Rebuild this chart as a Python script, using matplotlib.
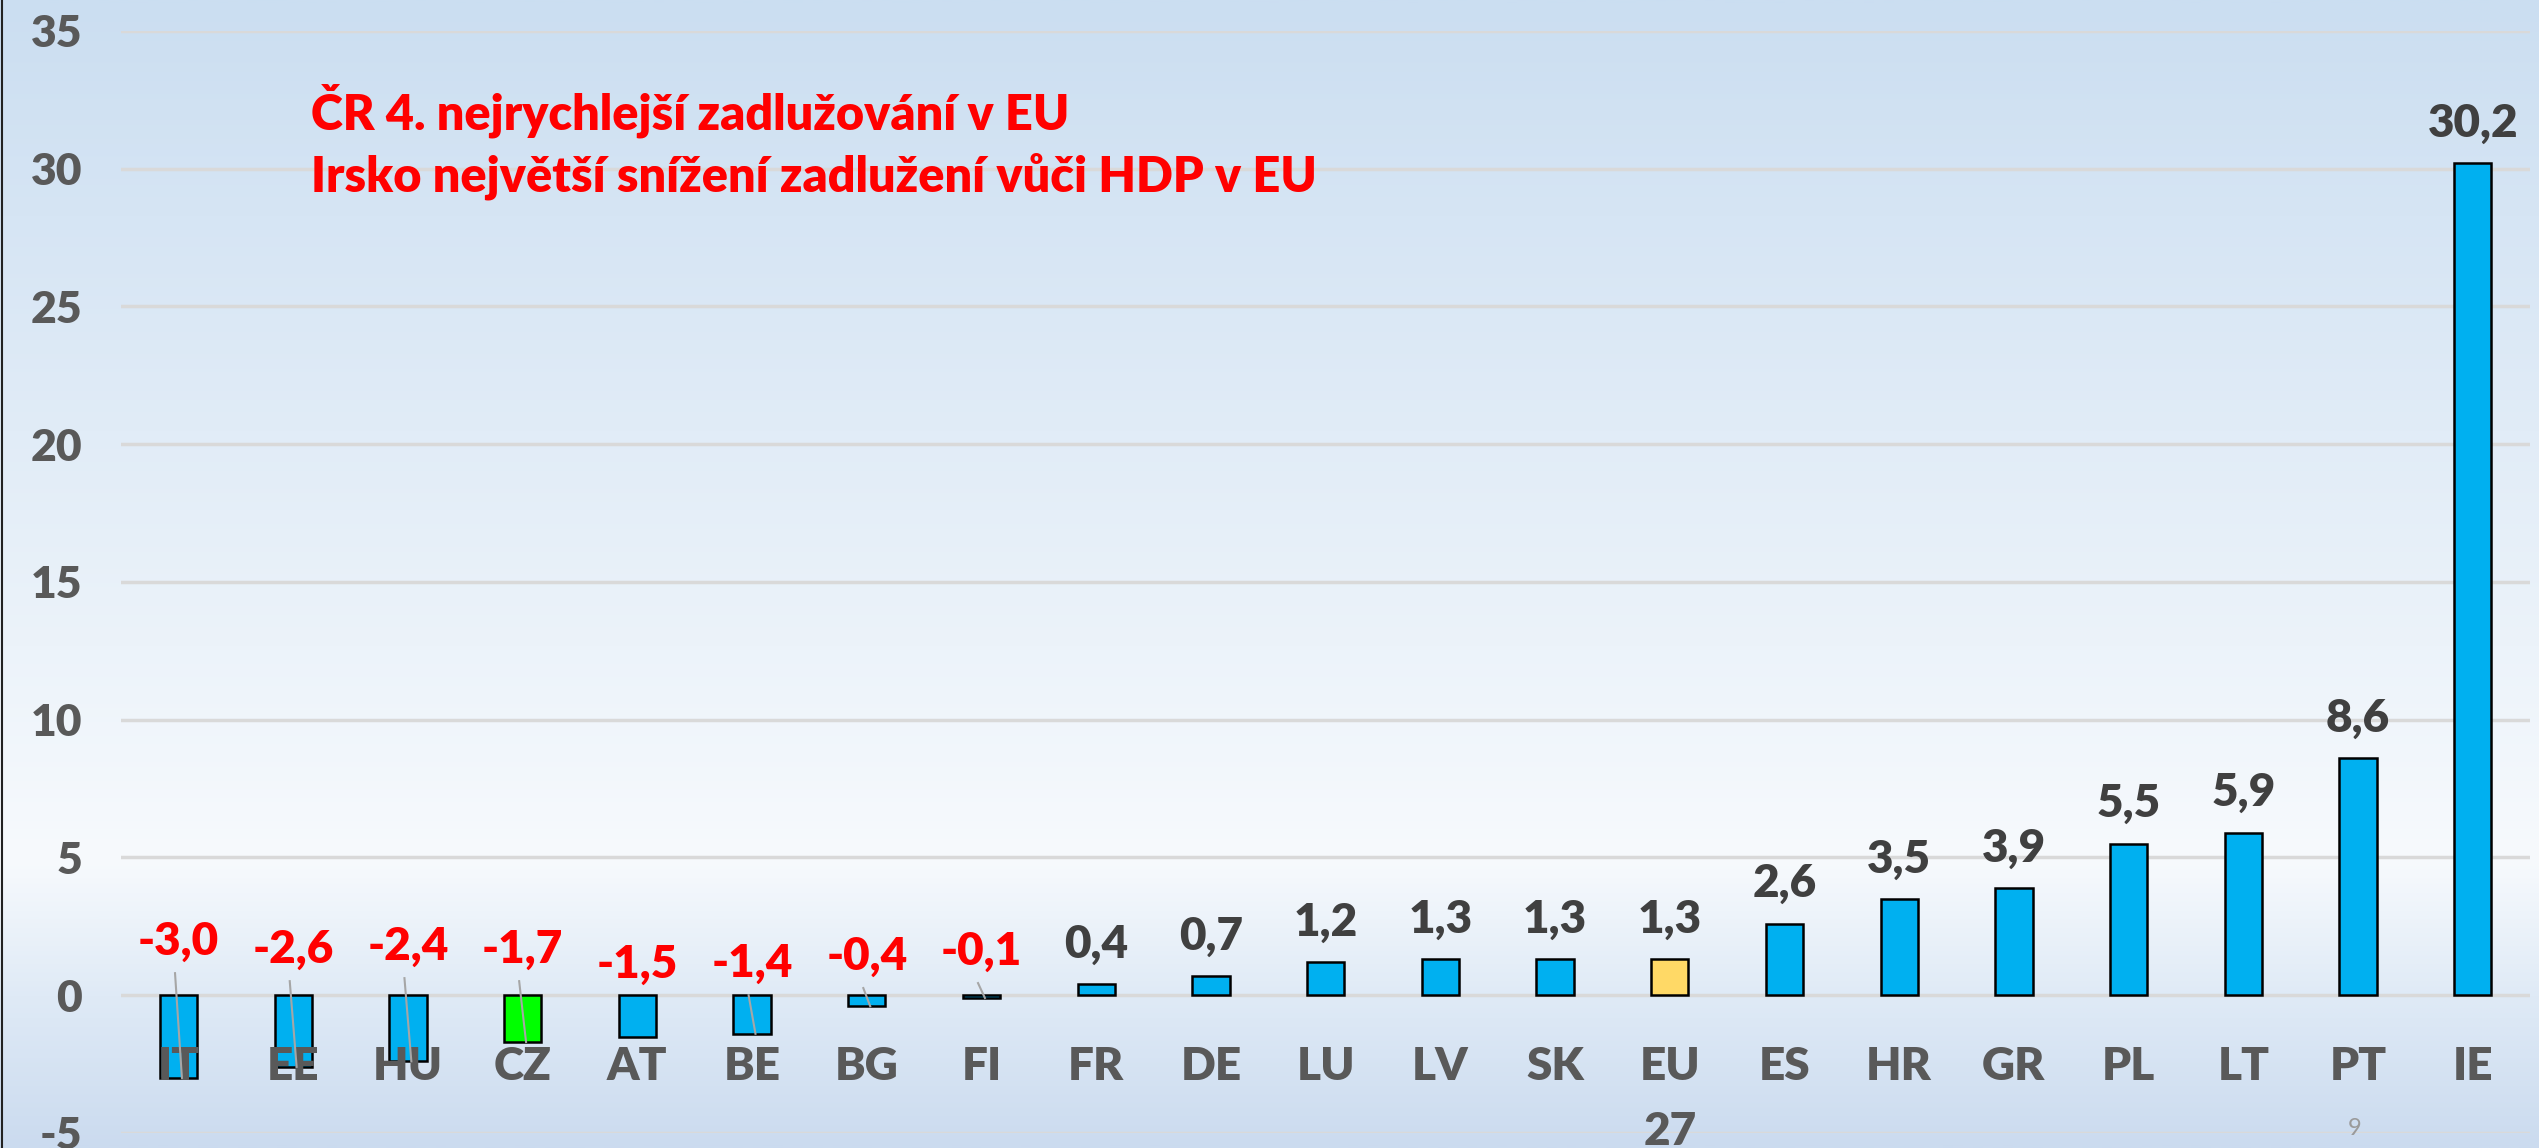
import matplotlib.pyplot as plt
import numpy as np
from matplotlib.colors import LinearSegmentedColormap

plt.rcParams['font.family'] = ['Lato', 'DejaVu Sans']

# Data
countries = ['IT', 'EE', 'HU', 'CZ', 'AT', 'BE', 'BG', 'FI', 'FR', 'DE', 'LU',
             'LV', 'SK', 'EU\n27', 'ES', 'HR', 'GR', 'PL', 'LT', 'PT', 'IE']
values = [-3.0, -2.6, -2.4, -1.7, -1.5, -1.4, -0.4, -0.1, 0.4, 0.7, 1.2,
          1.3, 1.3, 1.3, 2.6, 3.5, 3.9, 5.5, 5.9, 8.6, 30.2]
yticks = [-5, 0, 5, 10, 15, 20, 25, 30, 35]
title_lines = ['ČR 4. nejrychlejší zadlužování v EU',
               'Irsko největší snížení zadlužení vůči HDP v EU']

# Styling / layout
W = 'heavy'
bar_colors = ['#00b0f0'] * len(countries)
bar_colors[countries.index('CZ')] = '#00ff00'
bar_colors[countries.index('EU\n27')] = '#ffd966'
# manual label heights for negative values (Excel moved them above zero)
neg_label_y = [1.45, 1.16, 1.27, 1.16, 0.62, 0.65, 0.91, 1.09]
neg_leader = [True, True, True, True, False, True, True, True]

fig = plt.figure(figsize=(25.39, 11.48), dpi=100)

# background gradient
bg = fig.add_axes([0, 0, 1, 1], zorder=-10)
cmap = LinearSegmentedColormap.from_list(
    'bg', [(0.0, '#cbdef1'), (0.75, '#f7fafd'), (0.87, '#dfeaf6'), (1.0, '#cbdbef')])
grad = np.linspace(0, 1, 512).reshape(-1, 1)
bg.imshow(grad, aspect='auto', cmap=cmap, extent=[0, 1, 0, 1], origin='upper')
bg.axis('off')
bg.plot([0.0006, 0.0006], [0, 1], color='#222222', lw=1.5)
bg.set_xlim(0, 1)
bg.set_ylim(0, 1)

ax = fig.add_axes([0.0477, 0.0131, 0.9488, 0.9599])
ax.set_facecolor('none')
x = np.arange(len(countries))
ax.bar(x, values, width=0.325, color=bar_colors, edgecolor='black', linewidth=1.8, zorder=3)
ax.set_xlim(-0.5, len(countries) - 0.5)
ax.set_ylim(-5, 35)
ax.set_yticks(yticks)
ax.set_yticklabels([str(t) for t in yticks], fontsize=32, fontweight=W, color='#595959')
ax.tick_params(axis='y', length=0, pad=28)
ax.set_xticks([])
ax.grid(axis='y', color='#d9d9d9', linewidth=2.5, zorder=0)
for s in ax.spines.values():
    s.set_visible(False)

# category labels inside plot area, one text per line
for i, c in enumerate(countries):
    for k, part in enumerate(c.split('\n')):
        ax.annotate(part, (i, -3.06), xytext=(0, -47 * k), textcoords='offset points',
                    ha='center', va='baseline', fontsize=33, fontweight=W,
                    color='#595959', zorder=5, annotation_clip=False)

# data labels
neg_i = 0
for i, v in enumerate(values):
    txt = f'{v:.1f}'.replace('.', ',')
    if v < 0:
        ly = neg_label_y[neg_i]
        ax.text(i, ly, txt, ha='center', va='baseline', fontsize=33, fontweight=W,
                color='#ff0000', zorder=5)
        if neg_leader[neg_i]:
            ax.plot([i - 0.03, i + 0.03], [ly - 0.65, v], color='#a6a6a6', lw=1.5, zorder=6)
        neg_i += 1
    else:
        ax.annotate(txt, (i, v), xytext=(0, 19), textcoords='offset points',
                    ha='center', va='baseline', fontsize=33, fontweight=W,
                    color='#404040', zorder=5)

# headline
for k, line in enumerate(title_lines):
    fig.text(311 / 2539, 1 - (129 + 62 * k) / 1148, line, ha='left', va='baseline',
             fontsize=35, fontweight=W, color='#ff0000')

# page number
fig.text(2355 / 2539, 1 - 1135 / 1148, '9', ha='center', va='baseline', fontsize=17, color='#9a9a9a')

plt.savefig('out.png', dpi=100)
